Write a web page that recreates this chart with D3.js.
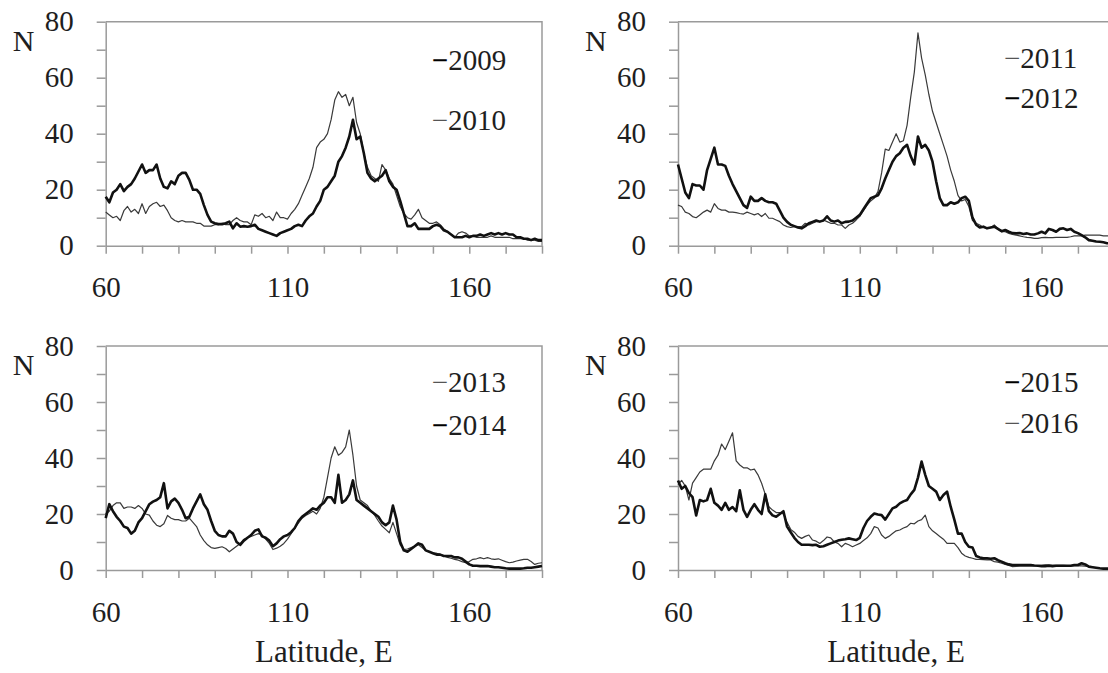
<!DOCTYPE html>
<html>
<head>
<meta charset="utf-8">
<script src="https://cdn.jsdelivr.net/npm/d3@7"></script>
<style>
	body { margin: 0; background: #fff; }
	#chart text { font-family: 'Liberation Serif', 'Times New Roman', 'DejaVu Serif', serif; }
</style>
</head>
<body>
<svg id="chart" width="1108" height="673"></svg>
<script>
(function(){
	'use strict';

	// latitude grid, one value per degree
	var latitudes = d3.range(60, 181);
	var yTickValues = d3.range(0, 81, 10);
	var yTickLabels = [0, 20, 40, 60, 80];
	var xTickValues = d3.range(60, 181, 10);
	var xTickLabels = [60, 110, 160];

	var n2009 = [17.5, 15.5, 19, 20, 22, 19.5, 21, 22, 24, 26.5,
		29, 26, 27, 27, 29, 24, 21, 20.5, 23, 22,
		25, 26, 26, 23.5, 20, 20, 18.5, 14.5, 11, 8.6,
		8, 7.7, 7.7, 8, 8.6, 6.2, 8, 6.8, 7, 6.8,
		7, 7.5, 6, 5.5, 5, 4.5, 4, 3.5, 4.5, 5,
		5.5, 6, 7, 7.5, 7, 9, 10.5, 11.5, 14, 16,
		20, 21, 23, 25, 30, 32, 35, 39, 45, 38,
		39, 33, 26, 24, 23, 24, 25, 27, 23, 21,
		20, 16, 11.5, 7, 7, 8, 6, 6, 6, 6,
		7, 7.5, 7, 5.5, 5, 4, 3, 3, 3, 3.5,
		3, 3.5, 3.5, 4, 3.5, 4, 4.5, 4, 4.5, 4,
		4.5, 4, 4, 3, 3, 2.5, 2.5, 2, 2.5, 2, 2];
	var n2010 = [12, 11, 10, 10.5, 9, 12.5, 14, 12, 13, 11.5,
		15, 11.5, 14, 15, 15.5, 14, 14.5, 12.5, 10, 9,
		8.5, 9, 8.5, 8.5, 8.5, 8, 8, 7, 7, 7,
		7.5, 7.5, 8, 7.5, 7.5, 9, 10, 9, 8.5, 8.5,
		7.5, 11, 10.5, 11.5, 10, 10.5, 9, 12, 10, 10,
		9.5, 11.5, 13, 15, 18, 21, 24, 28, 35, 37,
		38, 40, 45, 52, 55, 53, 54, 50, 53, 44,
		40, 33, 28, 25, 24, 23, 29, 27, 24, 22,
		18, 14, 11.5, 10, 9.5, 11, 13, 10, 9, 8,
		8, 8.5, 7.5, 6, 5, 4, 3, 4.5, 5, 4.5,
		3.5, 3.5, 3, 3, 3, 3, 3.5, 3, 3, 3,
		3, 3, 2.5, 2.5, 2.5, 2.5, 2, 2, 2, 1.5, 1.5];
	var n2011 = [14.5, 14, 12, 11.5, 10.4, 10, 11, 12, 12.7, 12,
		15, 13.3, 12.7, 12.7, 12, 12, 11.8, 11.5, 11.3, 12,
		11.5, 11, 11.5, 10.4, 11.5, 9.8, 9.8, 9.2, 8.6, 7.4,
		6.8, 6.5, 6.8, 6.8, 6.8, 8, 7.4, 8, 8.6, 8.6,
		9.2, 8.6, 8, 8, 7.4, 7.4, 6.2, 7.4, 8, 9.2,
		10.5, 12.5, 14.5, 16, 17, 19.3, 26, 34.5, 34, 37,
		40, 37, 37.5, 43, 53, 62, 76, 67, 61, 54,
		48, 44, 40, 36, 32, 27, 23, 18, 16, 16.5,
		14, 9, 8, 7.4, 6.5, 6.2, 6.5, 7.4, 6, 5,
		5, 4.4, 4, 3.8, 3.5, 3.2, 3, 2.9, 2.6, 2.6,
		2.9, 3, 2.9, 2.9, 3, 3, 3, 3, 3.2, 3.5,
		3.5, 3.5, 3.8, 3.8, 3.8, 3.8, 3.8, 3.5, 3.5, 3.5, 3.5];
	var n2012 = [29, 24, 19, 17, 22, 21.5, 21.5, 20, 27, 31,
		35, 29, 29, 28.5, 25, 22, 19.5, 17, 14.5, 13.5,
		17.5, 16, 16, 17, 16, 15.5, 15.5, 15, 12.5, 10,
		8.5, 7.5, 7, 6.5, 6.2, 7, 8, 8.5, 9, 8.6,
		9, 10.5, 9, 8.6, 9, 8, 8.5, 8.6, 9, 10,
		11, 13, 15, 17, 17.5, 18, 20.5, 24, 27, 30,
		32, 33, 35, 36, 32, 29, 39, 35, 36, 34,
		30, 23, 17, 14.5, 14.5, 15.5, 15, 15.5, 17, 17.5,
		16, 10, 7.5, 6.5, 6.8, 6.2, 6.5, 6.8, 6, 5.2,
		5.6, 5, 4.5, 4.4, 4.5, 4.2, 4.4, 4, 4, 4.4,
		5, 4.4, 6, 5.6, 5, 6, 6.2, 5.6, 6, 5,
		4.5, 3.8, 3, 2, 1.8, 1.5, 1.4, 1.2, 0.9, 0.8, 0.7];
	var n2013 = [20, 21, 23, 24, 24, 22, 22.5, 22.5, 22, 23,
		22, 20, 19.6, 17.5, 16, 15.5, 16.5, 19.5, 18.5, 18,
		18, 17.5, 17.5, 18.5, 17, 15.5, 12.5, 10.5, 9, 8,
		7.7, 8, 8.3, 7.7, 6.5, 7.5, 8.5, 9.5, 11, 11.5,
		12, 12.5, 13, 12.5, 11, 9.5, 7.3, 7.8, 8.5, 9.5,
		11, 13, 15, 16.7, 18.5, 19.5, 20.2, 21, 20, 22,
		26, 33, 40, 44, 41, 42, 44, 50, 41, 30,
		25, 24, 23, 21, 19.5, 17.5, 15.7, 14.5, 13.3, 17,
		13, 9, 7.4, 7.5, 8, 8.5, 9, 8, 7, 6.5,
		6, 6, 5.6, 5, 4.5, 4.2, 3.8, 3.5, 3, 2.6,
		3, 3.8, 4, 4.4, 4, 4.4, 4, 3.8, 4, 3.5,
		3, 2.6, 2.8, 3.2, 3.5, 3.8, 3.8, 3, 2, 2.4, 2.6];
	var n2014 = [18.5, 23.5, 21, 19, 17.5, 15.5, 15, 13, 14, 17,
		18.5, 21, 23.5, 24.4, 25, 26, 31, 22, 24.5, 25.5,
		24, 21.5, 18.5, 19, 22, 24.5, 27, 23.5, 21.5, 17.5,
		14, 12.5, 12, 12, 14, 13, 10, 9, 10.5, 11.5,
		12.5, 14, 14.5, 12, 11.5, 10.5, 8.5, 9.5, 11, 12,
		12.5, 13.5, 15, 17.5, 19, 20, 21, 22, 21.5, 23,
		24, 26, 26, 24, 34, 24, 25, 27, 32, 25,
		24, 23, 22, 21, 20, 19, 17, 16, 17, 23,
		18, 10, 7, 6.5, 7.5, 8.5, 9.5, 9, 7, 6.5,
		6, 5.5, 5.5, 5, 5, 5, 4.5, 4.5, 4, 3,
		2, 1.5, 1.5, 1.4, 1.4, 1.4, 1.2, 1, 1, 0.8,
		0.6, 0.5, 0.5, 0.5, 0.5, 0.6, 0.8, 0.8, 1, 1.2, 1.4];
	var n2015 = [32, 29, 30, 27.5, 26, 19.5, 25, 24.5, 25, 29,
		24, 23, 21.5, 24, 21.5, 22.5, 21, 28.5, 21.5, 19,
		21.5, 23.5, 21.5, 20, 27, 21, 19.5, 19, 20, 21,
		15.5, 13.5, 11.5, 10, 9, 9, 9, 8.9, 9, 8.3,
		8.5, 9, 9.5, 10, 10.5, 10.8, 11, 11.3, 11, 10.7,
		11.5, 15, 17.5, 19, 20.2, 19.8, 19.6, 18, 20, 22,
		22.6, 23.8, 24.5, 25, 27, 28.6, 33, 38.7, 34, 30,
		29, 28, 25, 26.8, 28, 22.6, 18, 13, 13, 10,
		8.3, 8, 5, 4.5, 4.2, 4.2, 4, 4.2, 3.5, 3,
		2.4, 2, 1.8, 1.8, 1.8, 1.8, 1.8, 1.8, 1.6, 1.5,
		1.4, 1.4, 1.5, 1.4, 1.5, 1.5, 1.5, 1.5, 1.5, 1.8,
		1.8, 2.4, 2, 1.2, 1, 0.8, 0.6, 0.5, 0.5, 0.4, 0.4];
	var n2016 = [30.5, 32, 30, 25, 31, 33, 35, 36, 36, 36,
		39, 41, 45, 43, 46, 49, 39, 37.5, 36.5, 36.5,
		35.7, 36, 34, 31, 27, 22.6, 21.4, 20.5, 20.5, 20,
		17, 14.5, 13.5, 12, 11.3, 12, 12.5, 10.7, 10.3, 9.5,
		10.5, 11.8, 11.5, 10, 9.5, 8.3, 9.5, 9, 8.3, 8.9,
		9.5, 10.5, 11.5, 13, 15.5, 15, 12.5, 11.3, 12, 13,
		14, 14.3, 15, 15.5, 16.7, 16.5, 17.5, 18, 19.6, 15.5,
		14, 13, 12, 11, 9.5, 9.5, 9.5, 8, 6, 5,
		4.5, 4.2, 3.8, 3.8, 3.7, 3.6, 3.6, 3, 2.8, 2.4,
		2, 1.6, 1.2, 1.3, 1.4, 1.4, 1.4, 1.4, 1.5, 1.6,
		1.7, 1.8, 1.8, 1.7, 1.7, 1.7, 1.7, 1.6, 1.5, 1.5,
		1.5, 1.5, 1.4, 1.2, 1, 0.8, 0.6, 0.5, 0.5, 0.4, 0.4];

	var panels = [
		{ years: ['2009', '2010'], series: [n2009, n2010], bold: [true, false] },
		{ years: ['2011', '2012'], series: [n2011, n2012], bold: [false, true] },
		{ years: ['2013', '2014'], series: [n2013, n2014], bold: [false, true] },
		{ years: ['2015', '2016'], series: [n2015, n2016], bold: [true, false] }
	];

	// layout (the right-hand panels run off the page edge, like the scan)
	var W = 436.3, H = 224;
	var origins = [[105.7, 21.7], [678, 21.7], [105.7, 346], [678, 346]];
	var legendRows = [[48, 108], [46, 86], [46, 89], [46, 87]];
	var grey = '#9a9a9a';

	var x = d3.scaleLinear().domain([60, 180]).range([0, W]);
	var y = d3.scaleLinear().domain([0, 80]).range([H, 0]);

	var line = d3.line()
		.x(function(d, i){ return x(latitudes[i]); })
		.y(function(d){ return y(d); });

	var svg = d3.select('#chart');

	panels.forEach(function(p, k){
		var g = svg.append('g').attr('transform', 'translate(' + origins[k] + ')');

		// top and right border
		g.append('path')
			.attr('d', 'M0,0H' + x(180) + 'V' + H)
			.attr('fill', 'none')
			.attr('stroke', grey)
			.attr('stroke-width', 1.5);

		var yAxis = d3.axisLeft(y)
			.tickValues(yTickValues)
			.tickSize(9)
			.tickSizeOuter(0)
			.tickPadding(23)
			.tickFormat(function(d){ return yTickLabels.indexOf(d) >= 0 ? d : ''; });

		var xAxis = d3.axisBottom(x)
			.tickValues(xTickValues)
			.tickSize(8)
			.tickSizeOuter(0)
			.tickPadding(23)
			.tickFormat(function(d){ return xTickLabels.indexOf(d) >= 0 ? d : ''; });

		[g.append('g').call(yAxis),
		 g.append('g').attr('transform', 'translate(0,' + H + ')').call(xAxis)]
			.forEach(function(a){
				a.attr('font-family', null).attr('font-size', 29).attr('color', grey);
				a.selectAll('path, line').attr('stroke-width', 1.5);
				a.selectAll('text').attr('fill', '#1e1e1e');
			});

		// thin series first, bold on top
		[0, 1].sort(function(a, b){ return p.bold[a] - p.bold[b]; }).forEach(function(j){
			g.append('path')
				.datum(p.series[j])
				.attr('d', line)
				.attr('fill', 'none')
				.attr('stroke', p.bold[j] ? '#111' : '#3a3a3a')
				.attr('stroke-width', p.bold[j] ? 2.6 : 1.2)
				.attr('stroke-linejoin', 'round');
		});

		g.append('text')
			.attr('x', -93)
			.attr('y', 29)
			.attr('font-size', 30)
			.attr('fill', '#1e1e1e')
			.text('N');

		p.years.forEach(function(yr, j){
			var t = g.append('text')
				.attr('x', 326)
				.attr('y', legendRows[k][j])
				.attr('font-size', 29)
				.attr('fill', '#1e1e1e');
			t.append('tspan')
				.attr('font-weight', p.bold[j] ? 'bold' : 'normal')
				.attr('fill', p.bold[j] ? '#000' : '#555')
				.text('\u2212');
			t.append('tspan').text(yr);
		});

		if (k >= 2) {
			g.append('text')
				.attr('x', W / 2)
				.attr('y', H + 92)
				.attr('text-anchor', 'middle')
				.attr('font-size', 31)
				.attr('fill', '#1e1e1e')
				.text('Latitude, E');
		}
	});

})();
</script>
</body>
</html>
